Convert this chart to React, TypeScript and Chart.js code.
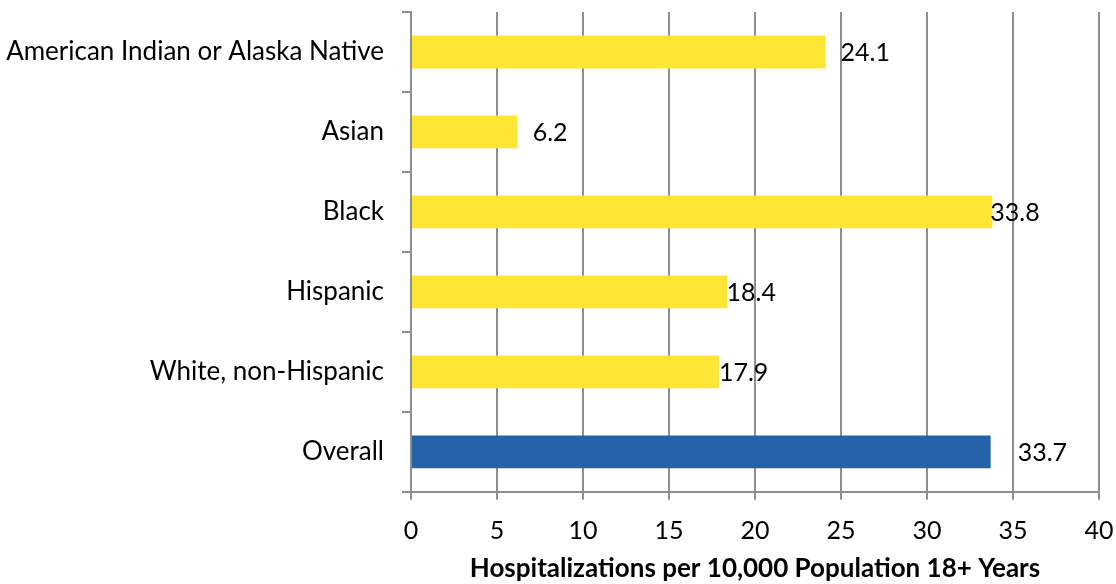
import React, { useEffect, useRef } from "react";
import { Chart, registerables } from "chart.js";

Chart.register(...registerables);

const categories = [
  "American Indian or Alaska Native",
  "Asian",
  "Black",
  "Hispanic",
  "White, non-Hispanic",
  "Overall",
];
const values = [24.1, 6.2, 33.8, 18.4, 17.9, 33.7];
const valueLabels = ["24.1", "6.2", "33.8", "18.4", "17.9", "33.7"];
const xTitle = "Hospitalizations per 10,000 Population 18+ Years";

const YELLOW = "#FFE534";
const BLUE = "#2462AA";
const GRID = "#8E8E8E";
const FONT = "Lato, 'Open Sans', sans-serif";

const labelOffsets = [15, 15, -2, -1, 0, 27];

const valueLabelPlugin = {
  id: "valueLabels",
  afterDatasetsDraw(chart: any) {
    const ctx = chart.ctx;
    const meta = chart.getDatasetMeta(0);
    ctx.save();
    ctx.fillStyle = "#000";
    ctx.font = `25px ${FONT}`;
    ctx.textAlign = "left";
    ctx.textBaseline = "middle";
    meta.data.forEach((bar: any, i: number) => {
      ctx.fillText(valueLabels[i], bar.x + labelOffsets[i], bar.y + 1);
    });
    ctx.restore();
  },
};

export default function App() {
  const ref = useRef<HTMLCanvasElement>(null);
  useEffect(() => {
    const chart = new Chart(ref.current!, {
      type: "bar",
      data: {
        labels: categories,
        datasets: [
          {
            data: values,
            backgroundColor: categories.map((c) => (c === "Overall" ? BLUE : YELLOW)),
            barPercentage: 0.41,
            categoryPercentage: 1,
          },
        ],
      },
      options: {
        indexAxis: "y",
        animation: false,
        responsive: false,
        layout: { padding: { top: 12, right: 17, bottom: 0, left: 4 } },
        plugins: { legend: { display: false }, tooltip: { enabled: false } },
        scales: {
          x: {
            min: 0,
            max: 40,
            afterFit(scale: any) {
              scale.paddingLeft = 0;
              scale.paddingRight = 0;
            },
            ticks: {
              stepSize: 5,
              color: "#000",
              font: { family: FONT, size: 25 },
              padding: 16,
            },
            grid: { color: GRID, lineWidth: 2, tickLength: 8, drawTicks: true },
            border: { color: GRID, width: 2 },
            title: {
              display: true,
              text: xTitle,
              color: "#000",
              font: { family: FONT, size: 26, weight: "bold" },
              padding: { top: -9, bottom: 0 },
            },
          },
          y: {
            afterFit(scale: any) {
              scale.paddingTop = 0;
              scale.paddingBottom = 0;
              scale.width = 407;
            },
            ticks: {
              color: "#000",
              font: { family: FONT, size: 26 },
              padding: 18,
            },
            grid: {
              offset: true,
              drawOnChartArea: false,
              drawTicks: true,
              tickLength: 9,
              color: GRID,
              lineWidth: 2,
            },
            border: { color: GRID, width: 2 },
          },
        },
      },
      plugins: [valueLabelPlugin],
    });
    return () => chart.destroy();
  }, []);
  return (
    <div style={{ position: "fixed", left: 0, top: 0, width: 1116, height: 584, background: "#fff" }}>
      <canvas ref={ref} width={1116} height={584} />
    </div>
  );
}
